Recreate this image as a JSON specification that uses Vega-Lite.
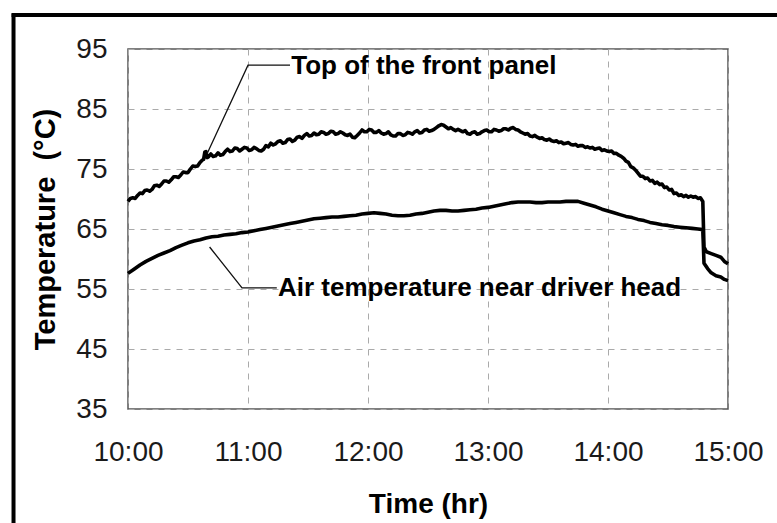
{
  "$schema": "https://vega.github.io/schema/vega-lite/v6.json",
  "width": 600,
  "height": 360,
  "autosize": "none",
  "padding": {"left": 128, "top": 49, "right": 49, "bottom": 114},
  "background": "white",
  "config": {
    "view": {"stroke": "#555", "strokeWidth": 1.5},
    "font": "Liberation Sans"
  },
  "datasets": {
    "series": [
      {"s":"top","hour":10.00,"temp":69.6},{"s":"top","hour":10.02,"temp":70.1},{"s":"top","hour":10.04,"temp":70.2},{"s":"top","hour":10.06,"temp":70.1},{"s":"top","hour":10.08,"temp":70.6},{"s":"top","hour":10.10,"temp":71.0},{"s":"top","hour":10.12,"temp":70.9},{"s":"top","hour":10.14,"temp":71.4},{"s":"top","hour":10.16,"temp":71.5},{"s":"top","hour":10.18,"temp":71.3},{"s":"top","hour":10.20,"temp":71.6},{"s":"top","hour":10.22,"temp":72.2},{"s":"top","hour":10.24,"temp":72.3},{"s":"top","hour":10.26,"temp":72.1},{"s":"top","hour":10.28,"temp":72.5},{"s":"top","hour":10.30,"temp":73.0},{"s":"top","hour":10.32,"temp":73.0},{"s":"top","hour":10.34,"temp":72.8},{"s":"top","hour":10.36,"temp":73.2},{"s":"top","hour":10.38,"temp":73.7},{"s":"top","hour":10.40,"temp":73.7},{"s":"top","hour":10.42,"temp":73.6},{"s":"top","hour":10.44,"temp":74.0},{"s":"top","hour":10.46,"temp":74.5},{"s":"top","hour":10.48,"temp":74.4},{"s":"top","hour":10.50,"temp":74.4},{"s":"top","hour":10.52,"temp":75.0},{"s":"top","hour":10.54,"temp":75.5},{"s":"top","hour":10.56,"temp":75.4},{"s":"top","hour":10.58,"temp":75.5},{"s":"top","hour":10.60,"temp":76.1},{"s":"top","hour":10.62,"temp":76.5},{"s":"top","hour":10.63,"temp":76.6},{"s":"top","hour":10.64,"temp":77.8},{"s":"top","hour":10.65,"temp":77.9},{"s":"top","hour":10.66,"temp":76.9},{"s":"top","hour":10.67,"temp":77.0},{"s":"top","hour":10.69,"temp":77.5},{"s":"top","hour":10.71,"temp":77.1},{"s":"top","hour":10.73,"temp":77.2},{"s":"top","hour":10.75,"temp":77.7},{"s":"top","hour":10.77,"temp":77.3},{"s":"top","hour":10.79,"temp":77.4},{"s":"top","hour":10.81,"temp":77.9},{"s":"top","hour":10.83,"temp":78.3},{"s":"top","hour":10.85,"temp":77.9},{"s":"top","hour":10.87,"temp":78.0},{"s":"top","hour":10.89,"temp":78.5},{"s":"top","hour":10.91,"temp":78.4},{"s":"top","hour":10.93,"temp":78.0},{"s":"top","hour":10.95,"temp":78.3},{"s":"top","hour":10.97,"temp":78.6},{"s":"top","hour":10.99,"temp":78.5},{"s":"top","hour":11.01,"temp":78.1},{"s":"top","hour":11.03,"temp":78.2},{"s":"top","hour":11.05,"temp":78.6},{"s":"top","hour":11.07,"temp":78.4},{"s":"top","hour":11.09,"temp":78.1},{"s":"top","hour":11.11,"temp":78.0},{"s":"top","hour":11.13,"temp":78.3},{"s":"top","hour":11.15,"temp":78.9},{"s":"top","hour":11.17,"temp":78.7},{"s":"top","hour":11.19,"temp":79.3},{"s":"top","hour":11.21,"temp":79.0},{"s":"top","hour":11.23,"temp":79.2},{"s":"top","hour":11.25,"temp":79.6},{"s":"top","hour":11.27,"temp":79.7},{"s":"top","hour":11.29,"temp":79.3},{"s":"top","hour":11.31,"temp":79.4},{"s":"top","hour":11.33,"temp":79.9},{"s":"top","hour":11.35,"temp":80.0},{"s":"top","hour":11.37,"temp":79.6},{"s":"top","hour":11.39,"temp":79.8},{"s":"top","hour":11.41,"temp":80.3},{"s":"top","hour":11.43,"temp":80.4},{"s":"top","hour":11.45,"temp":80.1},{"s":"top","hour":11.47,"temp":80.6},{"s":"top","hour":11.49,"temp":80.9},{"s":"top","hour":11.51,"temp":80.5},{"s":"top","hour":11.53,"temp":80.6},{"s":"top","hour":11.55,"temp":81.0},{"s":"top","hour":11.57,"temp":80.7},{"s":"top","hour":11.59,"temp":80.8},{"s":"top","hour":11.61,"temp":81.2},{"s":"top","hour":11.63,"temp":81.1},{"s":"top","hour":11.65,"temp":80.8},{"s":"top","hour":11.67,"temp":80.9},{"s":"top","hour":11.69,"temp":81.3},{"s":"top","hour":11.71,"temp":81.2},{"s":"top","hour":11.73,"temp":80.8},{"s":"top","hour":11.75,"temp":80.9},{"s":"top","hour":11.77,"temp":81.2},{"s":"top","hour":11.79,"temp":81.0},{"s":"top","hour":11.81,"temp":80.7},{"s":"top","hour":11.83,"temp":80.6},{"s":"top","hour":11.85,"temp":80.8},{"s":"top","hour":11.87,"temp":80.3},{"s":"top","hour":11.89,"temp":80.2},{"s":"top","hour":11.91,"temp":80.6},{"s":"top","hour":11.93,"temp":81.0},{"s":"top","hour":11.95,"temp":81.5},{"s":"top","hour":11.97,"temp":81.2},{"s":"top","hour":11.99,"temp":81.2},{"s":"top","hour":12.01,"temp":81.6},{"s":"top","hour":12.03,"temp":81.5},{"s":"top","hour":12.05,"temp":81.1},{"s":"top","hour":12.07,"temp":81.1},{"s":"top","hour":12.09,"temp":81.4},{"s":"top","hour":12.11,"temp":81.0},{"s":"top","hour":12.13,"temp":80.8},{"s":"top","hour":12.15,"temp":80.9},{"s":"top","hour":12.17,"temp":81.2},{"s":"top","hour":12.19,"temp":80.7},{"s":"top","hour":12.21,"temp":80.5},{"s":"top","hour":12.23,"temp":80.5},{"s":"top","hour":12.25,"temp":80.9},{"s":"top","hour":12.27,"temp":80.9},{"s":"top","hour":12.29,"temp":80.6},{"s":"top","hour":12.31,"temp":80.7},{"s":"top","hour":12.33,"temp":81.1},{"s":"top","hour":12.35,"temp":81.0},{"s":"top","hour":12.37,"temp":80.8},{"s":"top","hour":12.39,"temp":81.2},{"s":"top","hour":12.41,"temp":81.4},{"s":"top","hour":12.43,"temp":81.0},{"s":"top","hour":12.45,"temp":81.1},{"s":"top","hour":12.47,"temp":81.5},{"s":"top","hour":12.49,"temp":81.6},{"s":"top","hour":12.51,"temp":81.3},{"s":"top","hour":12.53,"temp":81.4},{"s":"top","hour":12.55,"temp":81.6},{"s":"top","hour":12.57,"temp":81.9},{"s":"top","hour":12.59,"temp":82.2},{"s":"top","hour":12.61,"temp":82.4},{"s":"top","hour":12.63,"temp":82.3},{"s":"top","hour":12.65,"temp":82.0},{"s":"top","hour":12.67,"temp":81.7},{"s":"top","hour":12.69,"temp":81.9},{"s":"top","hour":12.71,"temp":81.6},{"s":"top","hour":12.73,"temp":81.4},{"s":"top","hour":12.75,"temp":81.6},{"s":"top","hour":12.77,"temp":81.4},{"s":"top","hour":12.79,"temp":81.2},{"s":"top","hour":12.81,"temp":81.4},{"s":"top","hour":12.83,"temp":80.9},{"s":"top","hour":12.85,"temp":80.8},{"s":"top","hour":12.87,"temp":81.1},{"s":"top","hour":12.89,"temp":81.2},{"s":"top","hour":12.91,"temp":80.8},{"s":"top","hour":12.93,"temp":80.9},{"s":"top","hour":12.95,"temp":81.2},{"s":"top","hour":12.97,"temp":81.4},{"s":"top","hour":12.99,"temp":81.5},{"s":"top","hour":13.01,"temp":81.2},{"s":"top","hour":13.03,"temp":81.2},{"s":"top","hour":13.05,"temp":81.6},{"s":"top","hour":13.07,"temp":81.5},{"s":"top","hour":13.09,"temp":81.3},{"s":"top","hour":13.11,"temp":81.4},{"s":"top","hour":13.13,"temp":81.7},{"s":"top","hour":13.15,"temp":81.7},{"s":"top","hour":13.17,"temp":81.5},{"s":"top","hour":13.19,"temp":81.8},{"s":"top","hour":13.21,"temp":81.9},{"s":"top","hour":13.23,"temp":81.6},{"s":"top","hour":13.25,"temp":81.5},{"s":"top","hour":13.27,"temp":81.2},{"s":"top","hour":13.29,"temp":81.0},{"s":"top","hour":13.31,"temp":80.8},{"s":"top","hour":13.33,"temp":80.9},{"s":"top","hour":13.35,"temp":80.5},{"s":"top","hour":13.37,"temp":80.4},{"s":"top","hour":13.39,"temp":80.6},{"s":"top","hour":13.41,"temp":80.3},{"s":"top","hour":13.43,"temp":80.1},{"s":"top","hour":13.45,"temp":80.2},{"s":"top","hour":13.47,"temp":79.9},{"s":"top","hour":13.49,"temp":79.8},{"s":"top","hour":13.51,"temp":80.0},{"s":"top","hour":13.53,"temp":79.7},{"s":"top","hour":13.55,"temp":79.6},{"s":"top","hour":13.57,"temp":79.7},{"s":"top","hour":13.59,"temp":79.4},{"s":"top","hour":13.61,"temp":79.5},{"s":"top","hour":13.63,"temp":79.2},{"s":"top","hour":13.65,"temp":79.3},{"s":"top","hour":13.67,"temp":79.4},{"s":"top","hour":13.69,"temp":79.1},{"s":"top","hour":13.71,"temp":79.0},{"s":"top","hour":13.73,"temp":79.1},{"s":"top","hour":13.75,"temp":78.8},{"s":"top","hour":13.77,"temp":78.9},{"s":"top","hour":13.79,"temp":78.9},{"s":"top","hour":13.81,"temp":78.6},{"s":"top","hour":13.83,"temp":78.7},{"s":"top","hour":13.85,"temp":78.5},{"s":"top","hour":13.87,"temp":78.6},{"s":"top","hour":13.89,"temp":78.3},{"s":"top","hour":13.91,"temp":78.4},{"s":"top","hour":13.93,"temp":78.5},{"s":"top","hour":13.95,"temp":78.1},{"s":"top","hour":13.97,"temp":78.2},{"s":"top","hour":13.99,"temp":78.0},{"s":"top","hour":14.01,"temp":77.9},{"s":"top","hour":14.03,"temp":78.0},{"s":"top","hour":14.05,"temp":77.6},{"s":"top","hour":14.07,"temp":77.6},{"s":"top","hour":14.09,"temp":77.3},{"s":"top","hour":14.11,"temp":77.1},{"s":"top","hour":14.13,"temp":76.8},{"s":"top","hour":14.15,"temp":76.3},{"s":"top","hour":14.17,"temp":76.1},{"s":"top","hour":14.19,"temp":75.4},{"s":"top","hour":14.21,"temp":75.2},{"s":"top","hour":14.23,"temp":74.8},{"s":"top","hour":14.25,"temp":74.3},{"s":"top","hour":14.27,"temp":73.8},{"s":"top","hour":14.29,"temp":73.8},{"s":"top","hour":14.31,"temp":73.4},{"s":"top","hour":14.33,"temp":73.5},{"s":"top","hour":14.35,"temp":73.0},{"s":"top","hour":14.37,"temp":73.1},{"s":"top","hour":14.39,"temp":72.6},{"s":"top","hour":14.41,"temp":72.8},{"s":"top","hour":14.43,"temp":72.4},{"s":"top","hour":14.45,"temp":72.5},{"s":"top","hour":14.47,"temp":71.9},{"s":"top","hour":14.49,"temp":72.0},{"s":"top","hour":14.51,"temp":71.5},{"s":"top","hour":14.53,"temp":71.6},{"s":"top","hour":14.55,"temp":70.9},{"s":"top","hour":14.57,"temp":71.0},{"s":"top","hour":14.59,"temp":70.6},{"s":"top","hour":14.61,"temp":70.7},{"s":"top","hour":14.63,"temp":70.4},{"s":"top","hour":14.65,"temp":70.6},{"s":"top","hour":14.67,"temp":70.3},{"s":"top","hour":14.69,"temp":70.5},{"s":"top","hour":14.71,"temp":70.3},{"s":"top","hour":14.73,"temp":70.4},{"s":"top","hour":14.75,"temp":70.1},{"s":"top","hour":14.77,"temp":70.2},{"s":"top","hour":14.79,"temp":69.6},{"s":"top","hour":14.80,"temp":62.0},{"s":"top","hour":14.82,"temp":61.2},{"s":"top","hour":14.86,"temp":60.9},{"s":"top","hour":14.90,"temp":60.6},{"s":"top","hour":14.94,"temp":60.3},{"s":"top","hour":14.97,"temp":59.6},{"s":"top","hour":15.00,"temp":59.2},
      {"s":"air","hour":10.00,"temp":57.6},{"s":"air","hour":10.05,"temp":58.3},{"s":"air","hour":10.10,"temp":59.0},{"s":"air","hour":10.15,"temp":59.6},{"s":"air","hour":10.20,"temp":60.1},{"s":"air","hour":10.25,"temp":60.6},{"s":"air","hour":10.30,"temp":61.0},{"s":"air","hour":10.35,"temp":61.4},{"s":"air","hour":10.40,"temp":61.9},{"s":"air","hour":10.45,"temp":62.3},{"s":"air","hour":10.50,"temp":62.7},{"s":"air","hour":10.55,"temp":63.0},{"s":"air","hour":10.60,"temp":63.2},{"s":"air","hour":10.65,"temp":63.5},{"s":"air","hour":10.70,"temp":63.7},{"s":"air","hour":10.75,"temp":63.8},{"s":"air","hour":10.80,"temp":64.0},{"s":"air","hour":10.85,"temp":64.1},{"s":"air","hour":10.90,"temp":64.2},{"s":"air","hour":10.95,"temp":64.4},{"s":"air","hour":11.00,"temp":64.5},{"s":"air","hour":11.05,"temp":64.7},{"s":"air","hour":11.10,"temp":64.9},{"s":"air","hour":11.15,"temp":65.1},{"s":"air","hour":11.20,"temp":65.3},{"s":"air","hour":11.25,"temp":65.5},{"s":"air","hour":11.30,"temp":65.7},{"s":"air","hour":11.35,"temp":65.9},{"s":"air","hour":11.40,"temp":66.1},{"s":"air","hour":11.45,"temp":66.3},{"s":"air","hour":11.50,"temp":66.5},{"s":"air","hour":11.55,"temp":66.7},{"s":"air","hour":11.60,"temp":66.8},{"s":"air","hour":11.65,"temp":66.9},{"s":"air","hour":11.70,"temp":67.0},{"s":"air","hour":11.75,"temp":67.0},{"s":"air","hour":11.80,"temp":67.1},{"s":"air","hour":11.85,"temp":67.2},{"s":"air","hour":11.90,"temp":67.3},{"s":"air","hour":11.95,"temp":67.5},{"s":"air","hour":12.00,"temp":67.6},{"s":"air","hour":12.05,"temp":67.7},{"s":"air","hour":12.10,"temp":67.6},{"s":"air","hour":12.15,"temp":67.5},{"s":"air","hour":12.20,"temp":67.3},{"s":"air","hour":12.25,"temp":67.2},{"s":"air","hour":12.30,"temp":67.2},{"s":"air","hour":12.35,"temp":67.3},{"s":"air","hour":12.40,"temp":67.5},{"s":"air","hour":12.45,"temp":67.6},{"s":"air","hour":12.50,"temp":67.8},{"s":"air","hour":12.55,"temp":68.0},{"s":"air","hour":12.60,"temp":68.1},{"s":"air","hour":12.65,"temp":68.1},{"s":"air","hour":12.70,"temp":68.0},{"s":"air","hour":12.75,"temp":68.0},{"s":"air","hour":12.80,"temp":68.1},{"s":"air","hour":12.85,"temp":68.2},{"s":"air","hour":12.90,"temp":68.3},{"s":"air","hour":12.95,"temp":68.5},{"s":"air","hour":13.00,"temp":68.6},{"s":"air","hour":13.05,"temp":68.8},{"s":"air","hour":13.10,"temp":69.0},{"s":"air","hour":13.15,"temp":69.2},{"s":"air","hour":13.20,"temp":69.4},{"s":"air","hour":13.25,"temp":69.5},{"s":"air","hour":13.30,"temp":69.5},{"s":"air","hour":13.35,"temp":69.5},{"s":"air","hour":13.40,"temp":69.4},{"s":"air","hour":13.45,"temp":69.4},{"s":"air","hour":13.50,"temp":69.5},{"s":"air","hour":13.55,"temp":69.5},{"s":"air","hour":13.60,"temp":69.5},{"s":"air","hour":13.65,"temp":69.6},{"s":"air","hour":13.70,"temp":69.6},{"s":"air","hour":13.75,"temp":69.6},{"s":"air","hour":13.80,"temp":69.3},{"s":"air","hour":13.85,"temp":69.0},{"s":"air","hour":13.90,"temp":68.7},{"s":"air","hour":13.95,"temp":68.3},{"s":"air","hour":14.00,"temp":68.0},{"s":"air","hour":14.05,"temp":67.7},{"s":"air","hour":14.10,"temp":67.4},{"s":"air","hour":14.15,"temp":67.1},{"s":"air","hour":14.20,"temp":66.9},{"s":"air","hour":14.25,"temp":66.6},{"s":"air","hour":14.30,"temp":66.4},{"s":"air","hour":14.35,"temp":66.1},{"s":"air","hour":14.40,"temp":65.9},{"s":"air","hour":14.45,"temp":65.7},{"s":"air","hour":14.50,"temp":65.6},{"s":"air","hour":14.55,"temp":65.4},{"s":"air","hour":14.60,"temp":65.3},{"s":"air","hour":14.65,"temp":65.2},{"s":"air","hour":14.70,"temp":65.1},{"s":"air","hour":14.75,"temp":65.0},{"s":"air","hour":14.79,"temp":64.9},{"s":"air","hour":14.80,"temp":59.3},{"s":"air","hour":14.83,"temp":58.4},{"s":"air","hour":14.86,"temp":57.7},{"s":"air","hour":14.90,"temp":57.2},{"s":"air","hour":14.94,"temp":57.0},{"s":"air","hour":14.97,"temp":56.6},{"s":"air","hour":15.00,"temp":56.4}
    ],
    "leaders": [
      {"g":"top","i":0,"hour":11.35,"temp":92.3},{"g":"top","i":1,"hour":11.0,"temp":92.3},{"g":"top","i":2,"hour":10.66,"temp":77.6},
      {"g":"air","i":0,"hour":11.24,"temp":55.2},{"g":"air","i":1,"hour":10.95,"temp":55.2},{"g":"air","i":2,"hour":10.68,"temp":62.0}
    ],
    "labels": [
      {"label":"Top of the front panel","hour":11.36,"temp":92.2},
      {"label":"Air temperature near driver head","hour":11.25,"temp":55.2}
    ],
    "frame": [
      {"hour":9.046,"hour2":9.046,"temp":100.9,"temp2":14},
      {"hour":9.03,"hour2":15.5,"temp":100.67,"temp2":100.67}
    ]
  },
  "encoding": {
    "x": {"field": "hour", "type": "quantitative", "scale": {"domain": [10, 15], "nice": false, "zero": false},
      "axis": {"values": [10, 11, 12, 13, 14, 15], "labelExpr": "datum.value + ':00'", "grid": true, "gridDash": [6, 6], "gridColor": "#aaaaaa", "gridWidth": 1, "ticks": false, "domain": false, "labelFont": "Liberation Sans", "labelFontSize": 28, "labelColor": "#1a1a1a", "labelPadding": 29, "labelFlush": false, "labelOverlap": false, "title": "Time (hr)", "titleFont": "Liberation Sans", "titleFontSize": 28, "titleFontWeight": "bold", "titleColor": "#000", "titlePadding": 24}},
    "y": {"field": "temp", "type": "quantitative", "scale": {"domain": [35, 95], "nice": false, "zero": false},
      "axis": {"values": [35, 45, 55, 65, 75, 85, 95], "grid": true, "gridDash": [6, 6], "gridColor": "#aaaaaa", "gridWidth": 1, "ticks": false, "domain": false, "labelFont": "Liberation Sans", "labelFontSize": 28, "labelColor": "#1a1a1a", "labelPadding": 21, "labelOverlap": false, "labelFlush": false, "title": "Temperature\u00a0 (°C)", "titleFont": "Liberation Sans", "titleFontSize": 29, "titleFontWeight": "bold", "titleColor": "#000", "titlePadding": 15}}
  },
  "layer": [
    {
      "data": {"name": "series"},
      "mark": {"type": "line", "strokeWidth": 3.6, "color": "#000", "strokeJoin": "round"},
      "encoding": {"detail": {"field": "s"}}
    },
    {
      "data": {"name": "leaders"},
      "mark": {"type": "line", "strokeWidth": 1.3, "color": "#111"},
      "encoding": {"detail": {"field": "g"}, "order": {"field": "i"}}
    },
    {
      "data": {"name": "labels"},
      "mark": {"type": "text", "align": "left", "baseline": "middle", "font": "Liberation Sans", "fontSize": 26, "fontWeight": "bold", "color": "#000"},
      "encoding": {"text": {"field": "label"}}
    },
    {
      "data": {"name": "frame"},
      "mark": {"type": "rule", "strokeWidth": 4, "color": "#000"},
      "encoding": {"x2": {"field": "hour2"}, "y2": {"field": "temp2"}}
    }
  ]
}
